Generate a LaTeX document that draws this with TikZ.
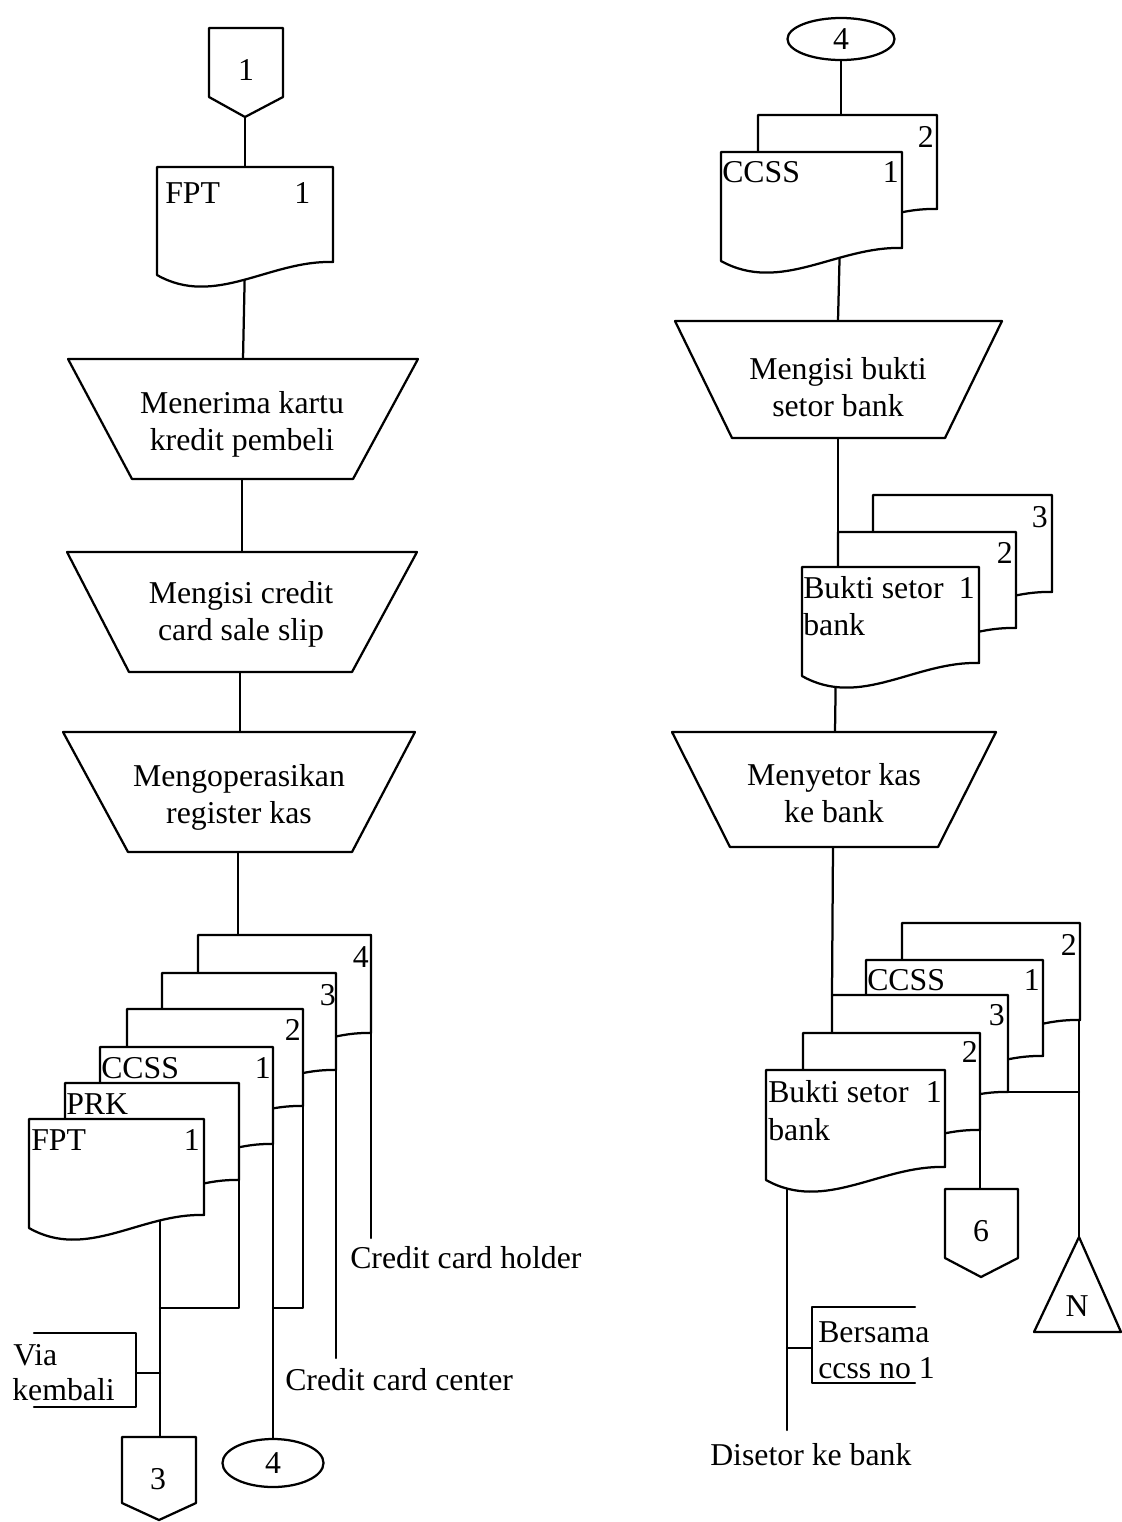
\documentclass[tikz,border=0pt]{standalone}
\usepackage{fontspec}
\setmainfont{Liberation Serif}
\usetikzlibrary{shapes.geometric}
\newcommand\dfont{\fontsize{22.6pt}{26.3pt}\selectfont}
% document symbol: L T R H
\newcommand\Docu[4]{%
  \draw[shp] (#1,#2) -- (#3,#2) -- (#3,{#2+#4})
    .. controls ({#1+0.64*(#3-#1)},{#2+#4-2}) and ({#1+0.33*(#3-#1)},{#2+#4+46}) .. (#1,{#2+#4+13}) -- cycle;}
\tikzset{
  ln/.style={line width=1.6pt, line cap=round, line join=round},
  shp/.style={ln, fill=white},
  txt/.style={font=\dfont, inner sep=0pt},
  lt/.style={txt, anchor=mid west, yshift=-5pt},
  rt/.style={txt, anchor=mid east, yshift=-5pt},
  ct/.style={txt, align=center, yshift=-2.5pt},
  ell/.style={draw, ellipse, line width=1.6pt, fill=white, inner sep=0pt, font=\dfont},
}
\begin{document}
\begin{tikzpicture}[x=0.025cm,y=-0.025cm]
\useasboundingbox[fill=white] (0,0) rectangle (1122,1522);

% ---------------- coordinates (left column)
\coordinate (c1tip) at (245,117);
\coordinate (fptTop) at (245,167);
\coordinate (fptOut) at (245,262);
\coordinate (t1top) at (243,359); \coordinate (t1bot) at (242,479);
\coordinate (t2top) at (242,552); \coordinate (t2bot) at (240,672);
\coordinate (t3top) at (240,732); \coordinate (t3bot) at (238,852);
\coordinate (d4top) at (238,935);
\coordinate (d4r) at (371,935); \coordinate (holderEnd) at (371,1238);
\coordinate (d3r) at (336,973); \coordinate (centerEnd) at (336,1358);
\coordinate (d2r) at (303,1009); \coordinate (d2turn) at (303,1308); \coordinate (j274) at (273,1308);
\coordinate (ccr) at (273,1047);
\coordinate (prr) at (239,1083); \coordinate (prturn) at (239,1308); \coordinate (j161) at (160,1308);
\coordinate (fpt2Out) at (160,1200); \coordinate (c3top) at (160,1437);
\coordinate (viaJ) at (160,1373); \coordinate (viaB) at (136,1373);

% ---------------- coordinates (right column)
\coordinate (ccbTop) at (841,115);
\coordinate (ccfOut) at (840,240); \coordinate (t4top) at (838,321);
\coordinate (t4bot) at (838,438); \coordinate (bkTop) at (838,567);
\coordinate (bkOut) at (836,660); \coordinate (t5top) at (835,732);
\coordinate (t5bot) at (833,847); \coordinate (b3top) at (832,995);
\coordinate (rb2r) at (1079,923); \coordinate (triApex) at (1079,1237);
\coordinate (b3br) at (1008,1092); \coordinate (j1080) at (1079,1092);
\coordinate (b2r) at (980,1033); \coordinate (c6top) at (980,1189);
\coordinate (bfOut) at (787,1170); \coordinate (disEnd) at (787,1430);
\coordinate (bsJ) at (787,1348); \coordinate (bsB) at (812,1348);

% ---------------- nodes needing names for connectors
\node[ell, minimum width=2.675cm, minimum height=1.05cm] (e4t) at (841,39) {4};
\node[ell, minimum width=2.525cm, minimum height=1.2cm] (e4b) at (273,1463) {4};

% ---------------- connectors (drawn first, shapes cover them)
\draw[ln] (c1tip) -- (fptTop);
\draw[ln] (fptOut) -- (t1top);
\draw[ln] (t1bot) -- (t2top);
\draw[ln] (t2bot) -- (t3top);
\draw[ln] (t3bot) -- (d4top);
\draw[ln] (d4r) -- (holderEnd);
\draw[ln] (d3r) -- (centerEnd);
\draw[ln] (d2r) -- (d2turn) -- (j274);
\draw[ln] (ccr) -- (e4b.north);
\draw[ln] (prr) -- (prturn) -- (j161);
\draw[ln] (fpt2Out) -- (c3top);
\draw[ln] (viaJ) -- (viaB);

\draw[ln] (e4t.south) -- (ccbTop);
\draw[ln] (ccfOut) -- (t4top);
\draw[ln] (t4bot) -- (bkTop);
\draw[ln] (bkOut) -- (t5top);
\draw[ln] (t5bot) -- (b3top);
\draw[ln] (rb2r) -- (triApex);
\draw[ln] (b3br) -- (j1080);
\draw[ln] (b2r) -- (c6top);
\draw[ln] (bfOut) -- (disEnd);
\draw[ln] (bsJ) -- (bsB);

% ---------------- left column shapes
\draw[shp] (209,28) -- (283,28) -- (283,97) -- (c1tip) -- (209,97) -- cycle;
\Docu{157}{167}{333}{95}
\draw[shp] (68,359) -- (418,359) -- (353,479) -- (132,479) -- cycle;
\draw[shp] (67,552) -- (417,552) -- (352,672) -- (129,672) -- cycle;
\draw[shp] (63,732) -- (415,732) -- (352,852) -- (128,852) -- cycle;
\Docu{198}{935}{371}{98}
\Docu{162}{973}{336}{97}
\Docu{127}{1009}{303}{97}
\Docu{100}{1047}{273}{97}
\Docu{65}{1083}{239}{97}
\Docu{29}{1119}{204}{96}
\draw[ln] (34,1333) -- (136,1333) -- (136,1407) -- (34,1407);
\draw[shp] (122,1437) -- (196,1437) -- (196,1503) -- (159,1520) -- (122,1503) -- cycle;

% ---------------- right column shapes
\Docu{758}{115}{937}{94}
\Docu{721}{152}{902}{96}
\draw[shp] (675,321) -- (1002,321) -- (945,438) -- (732,438) -- cycle;
\Docu{873}{495}{1052}{97}
\Docu{838}{532}{1016}{96}
\Docu{802}{567}{979}{96}
\draw[shp] (672,732) -- (996,732) -- (938,847) -- (730,847) -- cycle;
\Docu{902}{923}{1080}{97}
\Docu{866}{960}{1043}{96}
\Docu{832}{995}{1008}{97}
\Docu{803}{1033}{980}{97}
\Docu{766}{1070}{945}{97}
\draw[shp] (945,1189) -- (1018,1189) -- (1018,1258) -- (981,1277) -- (945,1258) -- cycle;
\draw[shp] (triApex) -- (1121,1332) -- (1034,1332) -- cycle;
\draw[ln] (915,1307) -- (812,1307) -- (812,1383) -- (915,1383);

% ---------------- texts (left)
\node[ct] (c1) at (246,66) {1};
\node[lt] (fptA) at (165,193) {FPT};
\node[lt] (fptAn) at (294,193) {1};
\node[ct] (t1) at (242,421) {Menerima kartu\\kredit pembeli};
\node[ct] (t2) at (241,611) {Mengisi credit\\card sale slip};
\node[ct] (t3) at (239,794) {Mengoperasikan\\register kas};
\node[rt] (n4) at (369,957) {4};
\node[rt] (n3) at (336,995) {3};
\node[rt] (n2) at (301,1030) {2};
\node[lt] (ccssL) at (101,1068) {CCSS};
\node[rt] (ccssLn) at (271,1068) {1};
\node[lt] (prk) at (66,1104) {PRK};
\node[lt] (fptB) at (31,1140) {FPT};
\node[rt] (fptBn) at (200,1140) {1};
\node[lt] (holder) at (350,1258) {Credit card holder};
\node[lt] (center) at (285,1380) {Credit card center};
\node[lt] (via) at (13,1355) {Via};
\node[lt] (kembali) at (12,1390) {kembali};
\node[ct] (c3) at (158,1476) {3};

% ---------------- texts (right)
\node[rt] (r2a) at (934,137) {2};
\node[lt] (ccssR) at (722,172) {CCSS};
\node[rt] (ccssRn) at (899,172) {1};
\node[ct] (t4) at (838,384) {Mengisi bukti\\setor bank};
\node[rt] (r3a) at (1048,517) {3};
\node[rt] (r2b) at (1013,553) {2};
\node[lt] (bk1) at (803,588) {Bukti setor};
\node[rt] (bk1n) at (975,588) {1};
\node[lt] (bk1b) at (803,625) {bank};
\node[ct] (t5) at (834,790) {Menyetor kas\\ke bank};
\node[rt] (r2c) at (1077,945) {2};
\node[lt] (ccssR2) at (867,980) {CCSS};
\node[rt] (ccssR2n) at (1040,980) {1};
\node[rt] (r3b) at (1005,1015) {3};
\node[rt] (r2d) at (978,1052) {2};
\node[lt] (bk2) at (768,1092) {Bukti setor};
\node[rt] (bk2n) at (942,1092) {1};
\node[lt] (bk2b) at (768,1130) {bank};
\node[ct] (c6) at (981,1228) {6};
\node[ct] (tn) at (1077,1303) {N};
\node[lt] (bers) at (818,1332) {Bersama};
\node[lt] (ccssno) at (818,1368) {ccss no 1};
\node[lt] (dis) at (710,1455) {Disetor ke bank};
\end{tikzpicture}
\end{document}
